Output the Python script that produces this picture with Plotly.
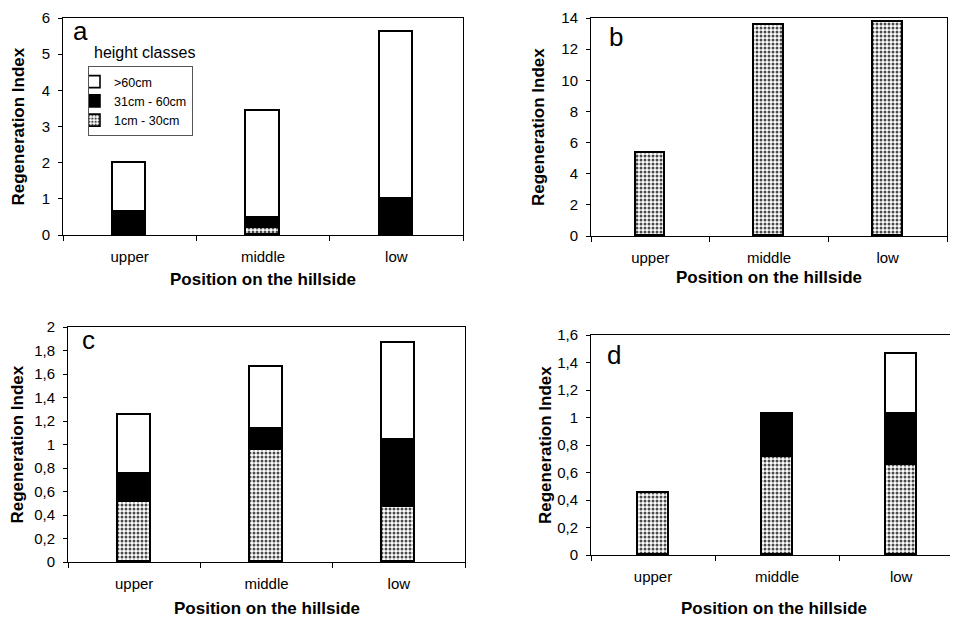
import plotly.graph_objects as go

# ---------------- data ----------------
positions = ["upper", "middle", "low"]
class_names = ["1cm - 30cm", "31cm - 60cm", ">60cm"]

# panel a
a_small = [0.02, 0.20, 0.05]
a_mid = [0.61, 0.26, 0.95]
a_tall = [1.37, 2.97, 4.61]
# panel b (only 1cm - 30cm)
b_small = [5.35, 13.52, 13.72]
# panel c
c_small = [0.51, 0.95, 0.47]
c_mid = [0.24, 0.18, 0.57]
c_tall = [0.50, 0.53, 0.82]
# panel d
d_small = [0.45, 0.715, 0.655]
d_mid = [0.0, 0.31, 0.37]
d_tall = [0.0, 0.0, 0.44]

FONT = "Liberation Sans, Arial, sans-serif"
GREY = "#b4b4b4"

def grey_marker():
    return dict(color=GREY, line=dict(color="black", width=1.6),
                pattern=dict(shape=".", size=4, solidity=0.45, fgcolor="#4a4a4a"))

def black_marker():
    return dict(color="black", line=dict(color="black", width=1.6))

def white_marker():
    return dict(color="white", line=dict(color="black", width=1.6))

fig = go.Figure()

panels = [
    ("x", "y", [a_small, a_mid, a_tall], True),
    ("x2", "y2", [b_small], False),
    ("x3", "y3", [c_small, c_mid, c_tall], False),
    ("x4", "y4", [d_small, d_mid, d_tall], False),
]
markers = [grey_marker, black_marker, white_marker]

for xa, ya, series, show in panels:
    for i, vals in enumerate(series):
        fig.add_trace(go.Bar(
            x=positions, y=vals, name=class_names[i], xaxis=xa, yaxis=ya,
            width=0.25, marker=markers[i](), showlegend=show,
            legendrank=3 - i,
        ))

# ---------------- layout ----------------
W, H = 958, 618
OFF = 8  # page body margin offset
def px(x):
    return (x - OFF) / W
def py(y):
    return 1 - (y - OFF) / H
def dx(a, b):
    return [px(a), px(b)]
def dy(top, bottom):
    return [py(bottom), py(top)]

domains = {
    "a": (dx(63, 463), dy(18, 235)),
    "b": (dx(591, 947), dy(18, 236)),
    "c": (dx(68, 465), dy(327, 562)),
    "d": (dx(591, 957), dy(335, 555)),
}
yranges = {"a": ([0, 6], 1), "b": ([0, 14], 2), "c": ([0, 2], 0.2), "d": ([0, 1.6], 0.2)}
xranges = {"a": [-0.5, 2.5], "b": [-0.5, 2.5], "c": [-0.5, 2.5], "d": [-0.5, 2.45]}

tickfont = dict(family=FONT, size=15, color="black")
layout = dict(
    template="none",
    width=W, height=H, margin=dict(l=0, r=0, t=0, b=0, pad=0, autoexpand=False),
    paper_bgcolor="white", plot_bgcolor="white",
    barmode="stack", separators=",.", bargap=0,
    font=dict(family=FONT, color="black"),
    legend=dict(x=px(88), y=py(66), xanchor="left", yanchor="top",
                bordercolor="#555", borderwidth=1, bgcolor="white",
                font=dict(family=FONT, size=12.5, color="black"),
                traceorder="normal", indentation=-15, itemwidth=30,
                tracegroupgap=0),
)

keys = ["a", "b", "c", "d"]
annotations = []
for idx, k in enumerate(keys):
    sfx = "" if idx == 0 else str(idx + 1)
    xd, yd = domains[k]
    yr, dt = yranges[k]
    layout["xaxis" + sfx] = dict(
        domain=xd, anchor="y" + sfx, type="category", range=xranges[k],
        showline=True, linecolor="black", linewidth=1, mirror=True,
        ticks="outside", ticklen=5, tickcolor="black", tickson="boundaries",
        showgrid=False, tickfont=dict(family=FONT, size=15, color="black"),
        ticklabelstandoff=8, automargin=False, zeroline=False,
        ticklabeloverflow="allow",
    )
    layout["yaxis" + sfx] = dict(
        domain=yd, anchor="x" + sfx, range=yr, dtick=dt, tick0=0,
        showline=True, linecolor="black", linewidth=1, mirror=True,
        ticks="outside", ticklen=4, tickcolor="black", showgrid=False,
        zeroline=False, tickfont=tickfont, ticklabelstandoff=5,
        automargin=False, ticklabeloverflow="allow",
    )
    xref = ("x" + sfx) + " domain"
    yref = ("y" + sfx) + " domain"
    xshift_title = {"a": -45, "b": -53, "c": -51, "d": -46}[k]
    yshift_title = {"a": -44, "b": -41, "c": -46, "d": -53}[k]
    annotations.append(dict(text="<b>Position on the hillside</b>", xref=xref, yref=yref,
                            x=0.5, y=0, xanchor="center", yanchor="middle",
                            yshift=yshift_title, showarrow=False,
                            font=dict(family=FONT, size=17, color="black")))
    annotations.append(dict(text="<b>Regeneration Index</b>", xref=xref, yref=yref,
                            x=0, y=0.5, xanchor="center", yanchor="middle",
                            xshift=xshift_title, textangle=-90, showarrow=False,
                            font=dict(family=FONT, size=17, color="black")))
    lx = {"a": 8, "b": 16, "c": 12, "d": 14}[k]
    ly = {"a": 4, "b": -2, "c": 4, "d": -3}[k]
    annotations.append(dict(text=k, xref=xref, yref=yref, x=0, y=1,
                            xanchor="left", yanchor="top", xshift=lx, yshift=ly,
                            showarrow=False,
                            font=dict(family=FONT, size=26, color="black")))

annotations.append(dict(text="height classes", xref="paper", yref="paper",
                        x=px(92), y=py(53), xanchor="left", yanchor="middle",
                        showarrow=False, font=dict(family=FONT, size=16, color="black")))
layout["annotations"] = annotations

fig.update_layout(**layout)
fig.write_html("out.html")
